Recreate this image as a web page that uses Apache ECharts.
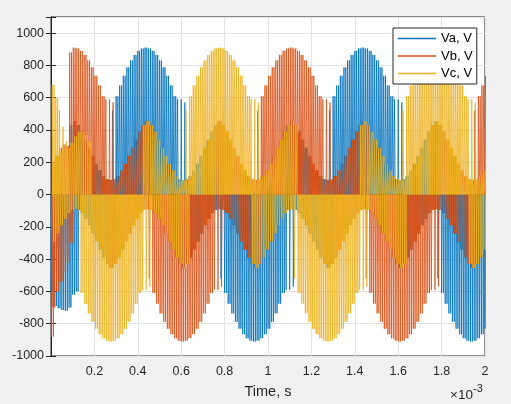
<!DOCTYPE html>
<html><head><meta charset="utf-8">
<script src="https://cdn.jsdelivr.net/npm/echarts@6/dist/echarts.min.js"></script>
<style>html,body{margin:0;padding:0;background:#f0f0f0;}#c{width:511px;height:404px;}</style>
</head><body><div id="c"></div>
<script>
// time axis in ms (displayed as x10^-3 s); one sample every 2/120 ms
const seriesNames = ['Va, V', 'Vb, V', 'Vc, V'];
const xTickLabels = ['0.2','0.4','0.6','0.8','1','1.2','1.4','1.6','1.8','2'];
const yTickLabels = ['-1000','-800','-600','-400','-200','0','200','400','600','800','1000'];

// Va: main pulse level, upper intermediate level, lower intermediate level
const vaBig = [
-600,-690,-705,-715,-720,-700,-620,-600,0,0,
0,0,0,0,0,0,0,520,609,676,
736,788,831,865,890,905,
910,905,890,865,831,788,736,676,609,590,
590,570,0,0,0,0,0,0,0,0,
0,-520,-609,-676,-736,-788,-831,-865,-890,-905,
-910,-905,-890,-865,-831,-788,-736,-676,-609,-590,
-590,-570,0,0,0,0,0,0,0,0,
0,520,609,676,736,788,831,865,890,905,
910,905,890,865,831,788,736,676,609,590,
590,570,0,0,0,0,0,0,0,0,
0,-520,-609,-676,-736,-788,-831,-865,-890,-905,
-910,-905,-890,-865,-831];
const vaUp = [
0,0,0,0,0,430,455,430,390,340,
290,240,190,150,115,95,90,95,115,150,
190,240,290,340,390,430,
455,430,390,340,290,240,190,150,115,95,
90,95,115,150,190,240,290,340,390,430,
455,430,0,0,0,0,0,0,0,0,
0,0,0,0,0,0,0,0,0,430,
455,430,390,340,290,240,190,150,115,95,
90,95,115,150,190,240,290,340,390,430,
455,430,390,340,290,240,190,150,115,95,
90,95,115,150,190,240,290,340,390,430,
455,430,0,0,0,0,0,0,0,0,
0,0,0,0,0];
const vaDown = [
-290,-240,-190,-150,-115,-95,-90,-95,-115,-150,
-190,-240,-290,-340,-390,-430,-455,-430,0,0,
0,0,0,0,0,0,
0,0,0,0,0,0,0,0,0,-430,
-455,-430,-390,-340,-290,-240,-190,-150,-115,-95,
-90,-95,-115,-150,-190,-240,-290,-340,-390,-430,
-455,-430,-390,-340,-290,-240,-190,-150,-115,-95,
-90,-95,-115,-150,-190,-240,-290,-340,-390,-430,
-455,-430,0,0,0,0,0,0,0,0,
0,0,0,0,0,0,0,0,0,-430,
-455,-430,-390,-340,-290,-240,-190,-150,-115,-95,
-90,-95,-115,-150,-190,-240,-290,-340,-390,-430,
-455,-430,-390,-340,-290];

// Vb
const vbBig = [
-880,0,0,0,0,880,
910,905,890,865,831,788,736,676,609,590,
590,570,0,0,0,0,0,0,0,0,
0,-520,-609,-676,-736,-788,-831,-865,-890,-905,
-910,-905,-890,-865,-831,-788,-736,-676,-609,-590,
-590,-570,0,0,0,0,0,0,0,0,
0,520,609,676,736,788,831,865,890,905,
910,905,890,865,831,788,736,676,609,590,
590,570,0,0,0,0,0,0,0,0,
0,-520,-609,-676,-736,-788,-831,-865,-890,-905,
-910,-905,-890,-865,-831,-788,-736,-676,-609,-590,
-590,-570,0,0,0,0,0,0,0,0,
0,520,609,676,736];
const vbUp = [
190,240,290,310,300,300,
455,430,390,340,290,240,190,150,115,95,
90,95,115,150,190,240,290,340,390,430,
455,430,0,0,0,0,0,0,0,0,
0,0,0,0,0,0,0,0,0,430,
455,430,390,340,290,240,190,150,115,95,
90,95,115,150,190,240,290,340,390,430,
455,430,390,340,290,240,190,150,115,95,
90,95,115,150,190,240,290,340,390,430,
455,430,0,0,0,0,0,0,0,0,
0,0,0,0,0,0,0,0,0,430,
455,430,390,340,290,240,190,150,115,95,
90,95,115,150,190];
const vbDown = [
-700,-600,-540,-480,-420,-300,
0,0,0,0,0,0,0,0,0,-430,
-455,-430,-390,-340,-290,-240,-190,-150,-115,-95,
-90,-95,-115,-150,-190,-240,-290,-340,-390,-430,
-455,-430,-390,-340,-290,-240,-190,-150,-115,-95,
-90,-95,-115,-150,-190,-240,-290,-340,-390,-430,
-455,-430,0,0,0,0,0,0,0,0,
0,0,0,0,0,0,0,0,0,-430,
-455,-430,-390,-340,-290,-240,-190,-150,-115,-95,
-90,-95,-115,-150,-190,-240,-290,-340,-390,-430,
-455,-430,-390,-340,-290,-240,-190,-150,-115,-95,
-90,-95,-115,-150,-190,-240,-290,-340,-390,-430,
-455,-430,0,0,0];

// Vc
const vcBig = [
680,600,520,420,330,0,0,0,-609,-676,
-736,-788,-831,-865,-890,-905,-910,-905,-890,-865,
-831,-788,-736,-676,-609,-590,-590,-570,0,0,
0,0,0,0,0,0,0,520,609,676,
736,788,831,865,890,905,
910,905,890,865,831,788,736,676,609,590,
590,570,0,0,0,0,0,0,0,0,
0,-520,-609,-676,-736,-788,-831,-865,-890,-905,
-910,-905,-890,-865,-831,-788,-736,-676,-609,-590,
-590,-570,0,0,0,0,0,0,0,0,
0,520,609,676,736,788,831,865,890,905,
910,905,890,865,831,788,736,676,609,590,
590,570,0,0,0];
const vcUp = [
190,240,270,280,290,320,360,390,390,370,
330,0,0,0,0,0,0,0,0,0,
0,0,0,0,0,430,455,430,390,340,
290,240,190,150,115,95,90,95,115,150,
190,240,290,340,390,430,
455,430,390,340,290,240,190,150,115,95,
90,95,115,150,190,240,290,340,390,430,
455,430,0,0,0,0,0,0,0,0,
0,0,0,0,0,0,0,0,0,430,
455,430,390,340,290,240,190,150,115,95,
90,95,115,150,190,240,290,340,390,430,
455,430,390,340,290,240,190,150,115,95,
90,95,115,150,190];
const vcDown = [
-290,-240,-190,-150,-115,-95,-90,-95,-115,-150,
-190,-240,-290,-340,-390,-430,-455,-430,-390,-340,
-290,-240,-190,-150,-115,-95,-90,-95,-115,-150,
-190,-240,-290,-340,-390,-430,-455,-430,0,0,
0,0,0,0,0,0,
0,0,0,0,0,0,0,0,0,-430,
-455,-430,-390,-340,-290,-240,-190,-150,-115,-95,
-90,-95,-115,-150,-190,-240,-290,-340,-390,-430,
-455,-430,-390,-340,-290,-240,-190,-150,-115,-95,
-90,-95,-115,-150,-190,-240,-290,-340,-390,-430,
-455,-430,0,0,0,0,0,0,0,0,
0,0,0,0,0,0,0,0,0,-430,
-455,-430,-390,-340,-290];

const samplePeriod = 2 / 120;
const colors = ['#0072BD', '#D95319', '#EDB120'];

// arc and intermediate pulses occur twice per sample period, edge pulses once
function pwmPath(big, up, down, shift) {
  const T = samplePeriod, pts = [];
  const pulse = (a, w, v) => { pts.push([a, 0], [a, v], [a + w, v], [a + w, 0]); };
  for (let k = 0; k < big.length; k++) {
    const t0 = k * T + shift;
    pts.push([t0, 0]);
    for (const h of [0, 0.5]) {
      if (big[k] && (h === 0 || Math.abs(big[k]) >= 600)) pulse(t0 + h * T, 0.16 * T, big[k]);
      if (up[k]) pulse(t0 + (h + 0.22) * T, 0.03 * T, up[k]);
      if (down[k]) pulse(t0 + (h + 0.36) * T, 0.03 * T, down[k]);
    }
  }
  return pts;
}

const phases = [[vaBig, vaUp, vaDown], [vbBig, vbUp, vbDown], [vcBig, vcUp, vcDown]];
const series = phases.map((p, i) => ({
  type: 'line', name: seriesNames[i], symbol: 'none', showSymbol: false,
  data: pwmPath(p[0], p[1], p[2], i * samplePeriod / 6),
  lineStyle: { width: 0.8, color: colors[i] }, itemStyle: { color: colors[i] },
  animation: false, clip: true, z: 2, xAxisIndex: 0, yAxisIndex: 0
}));

const axisColor = '#262626';
const font = 'Liberation Sans, Arial, Helvetica, sans-serif';
const chart = echarts.init(document.getElementById('c'), null, { renderer: 'canvas' });
chart.setOption({
  backgroundColor: '#f0f0f0',
  animation: false,
  grid: { left: 51, right: 26, top: 17, bottom: 46, show: true, backgroundColor: '#ffffff', borderColor: axisColor, borderWidth: 1 },
  xAxis: [{
    type: 'value', min: 0, max: 2, interval: 0.2, position: 'bottom',
    name: 'Time, s', nameLocation: 'middle', nameGap: 28,
    nameTextStyle: { fontSize: 14.5, color: axisColor, fontFamily: font },
    axisLine: { show: true, lineStyle: { color: axisColor } },
    axisTick: { show: true, inside: true, length: 5, lineStyle: { color: axisColor } },
    axisLabel: { margin: 9, fontSize: 12.5, color: axisColor, fontFamily: font,
      formatter: v => { const i = Math.round(v / 0.2) - 1; return (i >= 0 && i < xTickLabels.length) ? xTickLabels[i] : ''; } },
    splitLine: { show: true, lineStyle: { color: '#e3e3e3' } }
  }, {
    type: 'value', min: 0, max: 2, interval: 0.2, position: 'top',
    axisLine: { show: true, lineStyle: { color: axisColor } },
    axisTick: { show: true, inside: true, length: 5, lineStyle: { color: axisColor } },
    axisLabel: { show: false }, splitLine: { show: false }
  }],
  yAxis: [{
    type: 'value', min: -1000, max: 1100, interval: 200, position: 'left',
    axisLine: { show: true, lineStyle: { color: axisColor } },
    axisTick: { show: true, inside: true, length: 5, lineStyle: { color: axisColor } },
    axisLabel: { margin: 7, fontSize: 12.5, color: axisColor, fontFamily: font,
      formatter: v => { const i = Math.round((v + 1000) / 200); return (v <= 1000 && i >= 0 && i < yTickLabels.length) ? yTickLabels[i] : ''; } },
    splitLine: { show: true, lineStyle: { color: '#e3e3e3' } }
  }, {
    type: 'value', min: -1000, max: 1100, interval: 200, position: 'right',
    axisLine: { show: true, lineStyle: { color: axisColor } },
    axisTick: { show: true, inside: true, length: 5, lineStyle: { color: axisColor } },
    axisLabel: { show: false }, splitLine: { show: false }
  }],
  legend: {
    data: seriesNames, orient: 'vertical', left: 393, top: 28, z: 20,
    icon: 'path://M0,0M38,12M0,5.2L38,5.2L38,6.8L0,6.8Z',
    itemWidth: 38, itemHeight: 12, itemGap: 4.5, padding: [4, 4, 4, 5],
    backgroundColor: '#ffffff', borderColor: axisColor, borderWidth: 1, borderRadius: 0,
    textStyle: { fontSize: 13, color: '#000', fontFamily: font }
  },
  graphic: [
    { type: 'text', left: 450, top: 388, style: { text: '×10', fontSize: 13.5, fill: axisColor, fontFamily: font } },
    { type: 'text', left: 473, top: 383, style: { text: '-3', fontSize: 11, fill: axisColor, fontFamily: font } }
  ],
  series: series
});
</script></body></html>
